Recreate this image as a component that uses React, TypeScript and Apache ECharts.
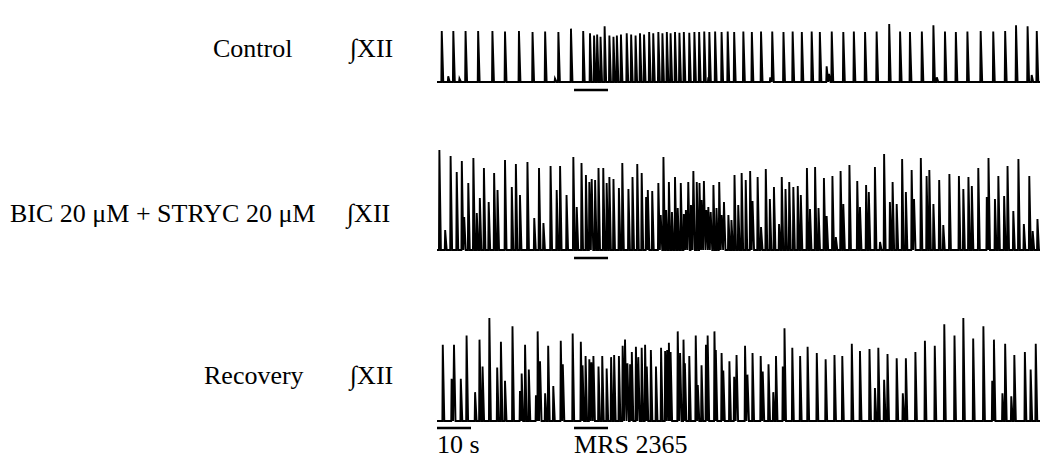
import React, { useEffect, useRef } from "react";
import * as echarts from "echarts";

// Spike events read from the recordings: [time (s), peak amplitude (% of panel max)]
const controlSpikes: [number, number][] = [
  [1.4, 88], [3.3, 10], [4.8, 88], [6.6, 6], [8.4, 88], [12.1, 88], [16.3, 88], [20.0, 87],
  [24.1, 88], [28.1, 86], [31.8, 87], [34.7, 6], [35.7, 86], [39.4, 92], [43.0, 88], [45.0, 84],
  [46.2, 80], [47.1, 82], [48.1, 78], [49.3, 96], [50.7, 80], [51.9, 78], [52.9, 80], [54.1, 82],
  [55.8, 84], [57.1, 82], [58.4, 80], [59.7, 84], [60.9, 82], [62.4, 86], [63.6, 84], [65.1, 86],
  [66.3, 84], [67.6, 86], [68.7, 84], [70.0, 86], [71.3, 85], [72.6, 86], [74.2, 85], [75.7, 86],
  [77.1, 86], [78.6, 87], [79.8, 8], [80.1, 86], [81.8, 87], [83.7, 86], [85.5, 87], [87.4, 86],
  [90.1, 87], [92.6, 86], [95.3, 87], [98.0, 8], [98.6, 87], [101.9, 86], [104.6, 87], [107.3, 86],
  [110.2, 87], [112.6, 86], [114.6, 27], [115.3, 14], [116.1, 87], [119.5, 86], [122.6, 87], [125.9, 86],
  [129.3, 87], [133.0, 100], [136.2, 87], [139.1, 86], [142.6, 87], [146.0, 98], [147.0, 8], [149.4, 87],
  [152.6, 86], [156.0, 87], [159.9, 88], [163.6, 87], [167.1, 88], [170.3, 98], [173.7, 96], [174.9, 12],
  [176.4, 88],
];

const bicSpikes: [number, number][] = [
  [0.7, 100], [2.4, 20], [4.0, 94], [5.8, 78], [7.3, 89], [8.0, 33], [9.2, 67], [10.7, 92],
  [11.7, 37], [12.6, 52], [13.8, 82], [15.2, 48], [16.8, 77], [17.8, 60], [20.0, 90], [22.0, 63],
  [23.2, 86], [24.4, 55], [26.6, 88], [28.6, 32], [30.0, 82], [31.3, 27], [33.4, 84], [35.2, 60],
  [36.2, 84], [38.1, 55], [40.1, 93], [41.1, 43], [42.5, 87], [43.8, 75], [44.8, 68], [45.5, 71],
  [46.5, 70], [47.5, 82], [48.9, 82], [49.9, 67], [50.7, 73], [51.9, 71], [53.5, 62], [54.5, 87],
  [56.3, 61], [57.5, 73], [58.9, 86], [60.2, 77], [61.5, 53], [62.0, 60], [63.3, 59], [65.1, 67],
  [65.8, 35], [66.6, 93], [67.4, 40], [68.2, 68], [69.1, 38], [70.0, 73], [70.8, 42], [71.7, 67],
  [72.6, 36], [73.2, 40], [73.9, 68], [74.7, 45], [75.4, 79], [76.4, 68], [77.2, 67], [77.8, 50],
  [78.5, 69], [79.2, 40], [79.8, 43], [80.5, 38], [81.3, 65], [82.2, 42], [83.0, 68], [83.7, 35],
  [84.4, 48], [85.7, 35], [86.6, 30], [87.5, 75], [88.6, 45], [89.6, 77], [90.8, 70], [92.1, 79],
  [92.8, 49], [94.3, 73], [95.3, 23], [96.7, 81], [97.9, 51], [99.1, 63], [100.6, 26], [101.4, 73],
  [102.5, 61], [103.6, 68], [104.8, 63], [106.1, 64], [107.0, 55], [108.8, 82], [109.7, 41], [111.2, 83],
  [112.2, 42], [113.8, 72], [114.6, 34], [116.3, 74], [117.3, 13], [118.7, 79], [119.5, 46], [121.3, 85],
  [123.6, 69], [124.4, 43], [126.2, 65], [127.0, 58], [128.8, 83], [130.3, 8], [131.5, 96], [133.2, 48],
  [134.0, 68], [135.2, 46], [136.8, 91], [137.9, 58], [139.6, 80], [140.3, 51], [142.3, 92], [144.0, 74],
  [144.8, 80], [146.0, 46], [147.7, 70], [148.9, 25], [150.7, 76], [153.5, 74], [154.8, 61], [156.3, 73],
  [157.3, 64], [159.2, 82], [161.7, 53], [162.2, 92], [164.1, 51], [165.1, 74], [166.8, 54], [167.8, 84],
  [169.5, 39], [171.0, 91], [172.6, 26], [174.2, 74], [175.2, 19], [176.6, 31],
];

const recoverySpikes: [number, number][] = [
  [1.7, 74], [4.3, 41], [5.0, 74], [7.0, 41], [8.7, 83], [11.2, 28], [12.5, 79], [13.4, 53],
  [15.4, 100], [17.7, 52], [18.8, 77], [20.0, 39], [22.2, 92], [24.4, 29], [24.9, 46], [25.9, 74],
  [27.0, 50], [29.1, 25], [29.6, 87], [30.3, 58], [31.8, 27], [32.7, 73], [34.2, 34], [36.4, 78],
  [37.0, 55], [39.9, 85], [42.3, 77], [42.8, 54], [43.7, 63], [44.8, 60], [45.4, 57], [46.0, 63],
  [47.5, 53], [48.6, 63], [49.9, 51], [51.2, 62], [52.1, 64], [53.5, 63], [54.6, 73], [55.3, 79],
  [56.0, 56], [56.8, 55], [57.3, 67], [58.5, 72], [59.2, 62], [60.2, 71], [61.2, 74], [61.7, 53],
  [62.9, 69], [64.4, 53], [65.9, 71], [67.1, 68], [67.7, 69], [68.2, 76], [68.7, 67], [70.8, 87],
  [71.5, 66], [72.5, 79], [72.9, 56], [74.2, 63], [76.1, 83], [76.7, 35], [77.8, 54], [79.1, 74],
  [79.6, 83], [81.6, 87], [82.0, 69], [83.7, 66], [84.2, 49], [86.0, 58], [87.4, 43], [88.1, 64],
  [90.6, 73], [91.3, 45], [92.8, 66], [95.2, 63], [95.8, 48], [97.5, 55], [98.9, 28], [99.7, 63],
  [101.7, 53], [102.2, 90], [104.5, 71], [106.8, 63], [109.0, 72], [111.7, 66], [114.3, 60], [116.9, 64],
  [119.2, 63], [122.0, 75], [124.4, 68], [127.2, 70], [128.8, 32], [129.8, 71], [131.5, 40], [132.5, 65],
  [135.2, 61], [137.0, 27], [137.9, 61], [140.7, 67], [143.5, 78], [146.4, 73], [149.2, 94], [152.2, 83],
  [154.8, 100], [157.7, 80], [160.7, 92], [163.3, 39], [163.8, 79], [166.3, 27], [167.1, 75], [168.9, 24],
  [169.8, 64], [172.9, 67], [174.6, 50], [176.1, 75],
];

const panelLabels = ["Control", "BIC 20 \u03bcM + STRYC 20 \u03bcM", "Recovery"];
const nerveLabel = "\u222bXII";
const DURATION = 177.35; // seconds shown
const MRS_START = 40.3;
const MRS_END = 50.3;
const SCALE_BAR: [number, number] = [0, 10];
const scaleBarText = "10 s";
const drugText = "MRS 2365";

const RISE = 0.12;
const FALL = 0.45;

function buildTrace(spikes: [number, number][]): number[][] {
  const pts: number[][] = [[0, 0]];
  for (const [t, a] of spikes) {
    pts.push([Math.max(0, t - RISE), 0], [t, a], [Math.min(DURATION, t + FALL), 0]);
  }
  pts.push([DURATION, 0]);
  return pts;
}

const SERIF = "'Liberation Serif', 'Times New Roman', 'DejaVu Serif', serif";

export default function App() {
  const ref = useRef<HTMLDivElement>(null);
  useEffect(() => {
    if (!ref.current) return;
    const chart = echarts.init(ref.current, undefined, { renderer: "svg" });
    const grids = [
      { left: 437, right: 2, top: 24, bottom: 382 },
      { left: 437, right: 2, top: 150, bottom: 214 },
      { left: 437, right: 2, top: 318, bottom: 43 },
    ];
    const traces = [controlSpikes, bicSpikes, recoverySpikes];
    chart.setOption({
      animation: false,
      grid: grids,
      xAxis: grids.map((_, i) => ({
        type: "value", gridIndex: i, min: 0, max: DURATION, show: false,
      })),
      yAxis: grids.map((_, i) => ({
        type: "value", gridIndex: i, min: 0, max: 100, show: false,
      })),
      series: traces.map((s, i) => ({
        type: "line",
        xAxisIndex: i,
        yAxisIndex: i,
        data: buildTrace(s),
        showSymbol: false,
        symbol: "none",
        clip: false,
        lineStyle: { color: "#000", width: 1.9, join: "miter" },
      })),
    });

    const px = (g: number, t: number, v: number) =>
      chart.convertToPixel({ gridIndex: g } as any, [t, v]) as number[];

    const graphics: any[] = [];
    const labelLeft = [213, 10, 204];
    const labelBaseline = [56, 221, 383];
    const nerveLeft = [350, 347, 350];
    panelLabels.forEach((lab, i) => {
      graphics.push({
        type: "text", left: labelLeft[i], top: labelBaseline[i] - 21,
        style: { text: lab, font: `26px ${SERIF}`, fill: "#000" },
      });
      graphics.push({
        type: "text", left: nerveLeft[i], top: labelBaseline[i] - 21,
        style: { text: nerveLabel, font: `26px ${SERIF}`, fill: "#000" },
      });
    });

    const bar = (g: number, a: number, b: number, dy: number) => {
      const p1 = px(g, a, 0);
      const p2 = px(g, b, 0);
      graphics.push({
        type: "line",
        shape: { x1: p1[0], y1: p1[1] + dy, x2: p2[0], y2: p2[1] + dy },
        style: { stroke: "#000", lineWidth: 2.6 },
      });
      return [p1[0], p1[1] + dy];
    };
    bar(0, MRS_START, MRS_END, 8);
    bar(1, MRS_START, MRS_END, 8);
    const m = bar(2, MRS_START, MRS_END, 7);
    const s = bar(2, SCALE_BAR[0], SCALE_BAR[1], 7);
    graphics.push({
      type: "text", left: s[0], top: s[1] + 3,
      style: { text: scaleBarText, font: `26px ${SERIF}`, fill: "#000" },
    });
    graphics.push({
      type: "text", left: m[0], top: m[1] + 3,
      style: { text: drugText, font: `26px ${SERIF}`, fill: "#000" },
    });
    chart.setOption({ graphic: graphics });

    return () => chart.dispose();
  }, []);
  return (
    <div
      ref={ref}
      style={{ position: "absolute", left: 0, top: 0, width: 1042, height: 464, background: "#fff" }}
    />
  );
}
